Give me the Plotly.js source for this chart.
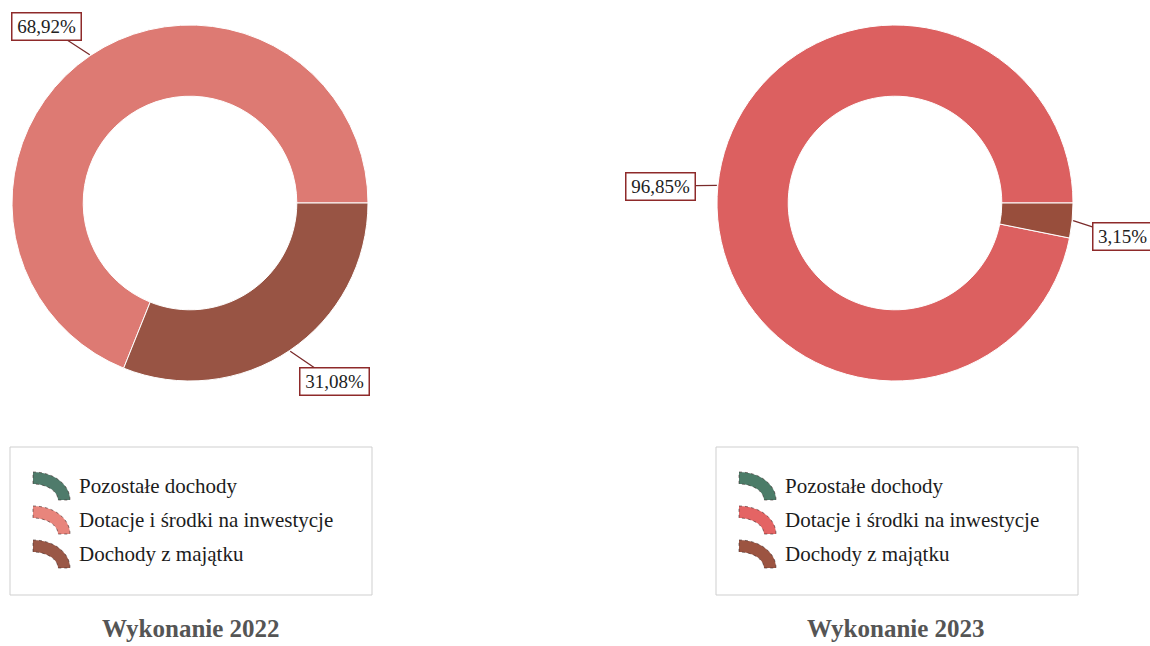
<!DOCTYPE html>
<html>
<head>
<meta charset="utf-8">
<script src="https://cdn.plot.ly/plotly-3.0.1.min.js"></script>
<style>html,body{margin:0;padding:0;background:#fff;}#chart{width:1150px;height:646px;}</style>
</head>
<body>
<div id="chart"></div>
<script>
// ---------- data ----------
const categories = ['Pozostałe dochody', 'Dotacje i środki na inwestycje', 'Dochody z majątku'];
const values2022 = [0, 68.92, 31.08];
const values2023 = [0, 96.85, 3.15];
const chartTitles = ['Wykonanie 2022', 'Wykonanie 2023'];

// ---------- styles / layout ----------
const W = 1150, H = 646;
const colors2022 = ['#4f7b6b', '#dd7a73', '#985444'];
const colors2023 = ['#4a7a66', '#dc6060', '#984e3c'];
const legendIconColors = [['#4f7b6b', '#e8857c', '#9a5847'], ['#4b7c68', '#e46464', '#9c5441']];
const R = 178;               // outer radius, px
const centers = [[190, 203], [895, 203]];
const labelOffsets = [[[0,0], [-43, -28], [44, 30]], [[0,0], [-56, 1], [49, 16]]];
const labelWidths = [[64, 64, 64], [64, 64, 54]];
const legendBoxes = [[10, 447, 372, 595], [716, 447, 1078, 595]];
const legendRowY = [486, 520, 554];
const serif = 'Liberation Serif, Times New Roman, serif';

const px = x => x / W;
const py = y => 1 - y / H;

function fmt(v) { return v.toFixed(2).replace('.', ',') + '%'; }

const allValues = [values2022, values2023];
const allColors = [colors2022, colors2023];

const traces = allValues.map((vals, k) => {
  const [cx, cy] = centers[k];
  return {
    type: 'pie',
    labels: categories,
    values: vals,
    hole: 0.6,
    sort: false,
    direction: 'counterclockwise',
    rotation: 90,
    textinfo: 'none',
    hoverinfo: 'label+percent',
    showlegend: false,
    marker: { colors: allColors[k], line: { color: '#ffffff', width: 1 } },
    domain: { x: [px(cx - R), px(cx + R)], y: [py(cy + R), py(cy - R)] }
  };
});

const annotations = [];
const shapes = [];

allValues.forEach((vals, k) => {
  const [cx, cy] = centers[k];
  const total = vals.reduce((a, b) => a + b, 0);
  let cum = 0;
  vals.forEach((v, i) => {
    if (v > 0) {
      const mid = (cum + v / 2) / total;
      const a = mid * 2 * Math.PI;   // counterclockwise from 3 o'clock
      const tx = cx + (R + 1) * Math.cos(a);
      const ty = cy - (R + 1) * Math.sin(a);
      annotations.push({
        x: px(tx), y: py(ty), xref: 'paper', yref: 'paper',
        text: fmt(v),
        showarrow: true, arrowhead: 0, arrowwidth: 1.3, arrowcolor: '#7a2b2b',
        ax: labelOffsets[k][i][0], ay: labelOffsets[k][i][1], standoff: 0,
        bordercolor: '#8e2a2a', borderwidth: 1.5, borderpad: 2, bgcolor: '#ffffff',
        width: labelWidths[k][i], height: 22,
        font: { family: serif, size: 19, color: '#222222' }
      });
    }
    cum += v;
  });

  // legend box
  const [bx0, by0, bx1, by1] = legendBoxes[k];
  shapes.push({
    type: 'rect', xref: 'paper', yref: 'paper',
    x0: px(bx0), x1: px(bx1), y0: py(by0), y1: py(by1),
    line: { color: '#cfcfcf', width: 1 }, fillcolor: 'rgba(0,0,0,0)'
  });

  categories.forEach((cat, i) => {
    const yc = legendRowY[i];
    const x0 = bx0 + 23;
    // quarter-ring icon
    const ocx = x0, ocy = yc + 14;
    const pts = [];
    const N = 16;
    for (let j = 0; j <= N; j++) {
      const t = Math.PI / 2 - (j / N) * (Math.PI / 2);
      pts.push([ocx + 37 * Math.cos(t), ocy - 28 * Math.sin(t)]);
    }
    for (let j = 0; j <= N; j++) {
      const t = (j / N) * (Math.PI / 2);
      pts.push([ocx + 25 * Math.cos(t), ocy - 16 * Math.sin(t)]);
    }
    const path = pts.map((p, j) => (j === 0 ? 'M' : 'L') + px(p[0]).toFixed(5) + ',' + py(p[1]).toFixed(5)).join(' ') + ' Z';
    shapes.push({
      type: 'path', xref: 'paper', yref: 'paper', path: path,
      fillcolor: legendIconColors[k][i],
      line: { color: 'rgba(60,40,40,0.6)', width: 1, dash: 'dot' }
    });
    annotations.push({
      x: px(bx0 + 67), y: py(yc), xref: 'paper', yref: 'paper',
      xanchor: 'left', yanchor: 'middle', showarrow: false,
      text: cat, font: { family: serif, size: 21, color: '#1c1c1c' }
    });
  });

  annotations.push({
    x: px(centers[k][0] + 1), y: py(628), xref: 'paper', yref: 'paper',
    xanchor: 'center', yanchor: 'middle', showarrow: false,
    text: '<b>' + chartTitles[k] + '</b>',
    font: { family: serif, size: 25, color: '#555555' }
  });
});

const layout = {
  width: W, height: H,
  margin: { l: 0, r: 0, t: 0, b: 0 },
  paper_bgcolor: '#ffffff',
  showlegend: false,
  annotations: annotations,
  shapes: shapes
};

Plotly.newPlot('chart', traces, layout, { displayModeBar: false, staticPlot: true });
</script>
</body>
</html>
